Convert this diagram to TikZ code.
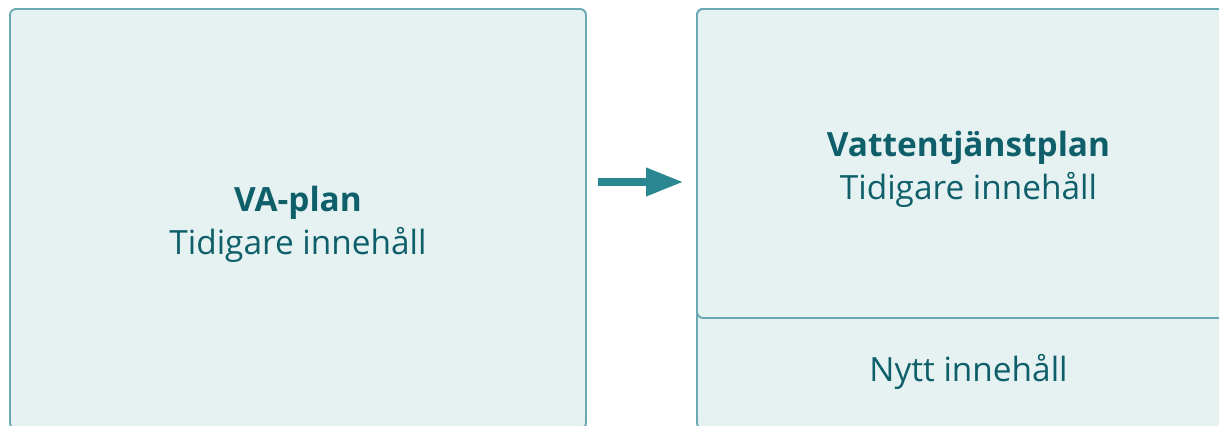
\documentclass[tikz,border=0pt]{standalone}
\usepackage{fontspec}
\setmainfont{Open Sans}
\usetikzlibrary{arrows.meta}
\definecolor{boxfill}{HTML}{E6F2F2}
\definecolor{boxline}{HTML}{6AA9B1}
\definecolor{textteal}{HTML}{0F5F6A}
\definecolor{arrowteal}{HTML}{2A8791}

\begin{document}
\begin{tikzpicture}[
    block/.style={
        draw=boxline,
        fill=boxfill,
        line width=1.1pt,
        rounded corners=0.12cm,
        rectangle,
        minimum width=10.86cm
    },
    label/.style={
        text=textteal,
        align=center,
        font=\fontsize{19}{24.5}\selectfont
    },
    flow/.style={
        draw=arrowteal,
        line width=4pt,
        -{Triangle[length=0.74cm,width=0.54cm]}
    }
]

    \path[use as bounding box, clip] (0,0) rectangle (24.38,8.52);

    % Boxes
    \node[block, minimum width=11.52cm, minimum height=8.4cm] (vaplan) at (5.96,4.14) {};
    \node[block, minimum height=8.4cm] (vtp) at (19.37,4.14) {};
    \node[block, minimum height=6.18cm] (tidigare) at (19.37,5.25) {};

    % Texts
    \node[label] (vaplantext) at ([yshift=-0.1cm]vaplan.center)
    {\textbf{VA-plan}\\Tidigare innehåll};

    \node[label] (tidigaretext) at ([yshift=-0.12cm]tidigare.center)
    {\textbf{Vattentjänstplan}\\Tidigare innehåll};

    \node[label] (nytt) at (19.37,1.09) {Nytt innehåll};

    % Arrows
    \draw[flow, shorten <=0.22cm, shorten >=0.26cm]
        ([yshift=0.74cm]vaplan.east) -- ([yshift=0.74cm]vtp.west);

\end{tikzpicture}
\end{document}
